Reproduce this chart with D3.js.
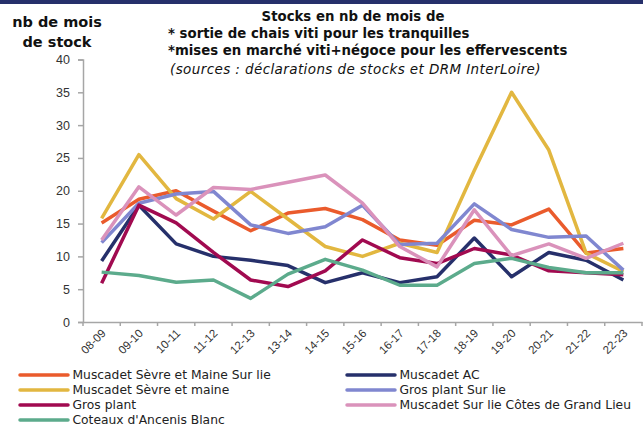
<!DOCTYPE html>
<html>
<head>
<meta charset="utf-8">
<script src="https://cdn.jsdelivr.net/npm/d3@7"></script>
<style>
  html, body { margin: 0; padding: 0; background: #fff; }
  svg { display: block; font-family: "DejaVu Sans", sans-serif; }
</style>
</head>
<body>
<svg id="chart" width="643" height="426"></svg>
<script>
// campaigns on the x axis
const campagnes = ['08-09', '09-10', '10-11', '11-12', '12-13', '13-14', '14-15', '15-16',
  '16-17', '17-18', '18-19', '19-20', '20-21', '21-22', '22-23'];

// months of stock
const sevreMaineSurLie = [15.1, 18.7, 20.0, 16.9, 13.9, 16.6, 17.3, 15.6, 12.5, 11.7, 15.5, 14.8, 17.2, 10.5, 11.2];
const muscadetAC = [9.3, 17.8, 11.9, 10.0, 9.4, 8.6, 6.0, 7.5, 6.0, 6.9, 12.8, 6.9, 10.6, 9.4, 6.4];
const sevreMaine = [15.8, 25.5, 18.8, 15.7, 19.9, 15.7, 11.5, 10.0, 12.0, 10.6, 23.1, 35.0, 26.2, 10.5, 7.7];
const grosPlantSurLie = [12.1, 18.1, 19.5, 19.9, 14.8, 13.5, 14.5, 17.8, 11.8, 12.0, 18.0, 14.1, 12.9, 13.1, 7.9];
const grosPlant = [5.9, 17.8, 15.1, 10.6, 6.4, 5.4, 7.8, 12.5, 9.8, 8.9, 11.2, 10.2, 7.8, 7.5, 7.2];
const grandLieu = [12.5, 20.6, 16.3, 20.5, 20.2, 21.3, 22.4, 18.1, 11.5, 8.4, 17.1, 10.1, 11.9, 9.7, 12.0];
const ancenis = [7.6, 7.1, 6.05, 6.4, 3.6, 7.3, 9.55, 7.9, 5.6, 5.6, 8.9, 9.7, 8.3, 7.5, 7.5];

const yTicks = [0, 5, 10, 15, 20, 25, 30, 35, 40];

const series = [
  { name: 'Muscadet Sèvre et Maine Sur lie', values: sevreMaineSurLie, color: '#ea5b2c' },
  { name: 'Muscadet AC', values: muscadetAC, color: '#26306b' },
  { name: 'Muscadet Sèvre et maine', values: sevreMaine, color: '#e2b740' },
  { name: 'Gros plant Sur lie', values: grosPlantSurLie, color: '#8087d0' },
  { name: 'Gros plant', values: grosPlant, color: '#a10a50' },
  { name: 'Muscadet Sur lie Côtes de Grand Lieu', values: grandLieu, color: '#da92bb' },
  { name: "Coteaux d'Ancenis Blanc", values: ancenis, color: '#5cab8c' }
];

const svg = d3.select('#chart');

// dark strip along the top edge
svg.append('rect')
  .attr('x', 0).attr('y', 0)
  .attr('width', 643).attr('height', 4)
  .attr('fill', '#26306b');

const margin = { left: 83, right: 1, top: 59.5, bottom: 104 };
const width = 643 - margin.left - margin.right;
const height = 426 - margin.top - margin.bottom;

const g = svg.append('g')
  .attr('transform', `translate(${margin.left},${margin.top})`);

const x = d3.scaleBand().domain(campagnes).range([0, width]);
const y = d3.scaleLinear().domain([0, 40]).range([height, 0]);

// y axis
const yAxis = g.append('g')
  .call(d3.axisLeft(y).tickValues(yTicks).tickSize(5).tickPadding(8));
yAxis.selectAll('text')
  .style('font-size', '12.5px')
  .style('fill', '#333');

// x axis, ticks sit on the category boundaries
const xAxis = g.append('g')
  .attr('transform', `translate(0,${height})`)
  .call(d3.axisBottom(x).tickSize(0).tickPadding(0));
xAxis.selectAll('text')
  .attr('text-anchor', 'end')
  .attr('transform', 'translate(2,9) rotate(-45)')
  .attr('dy', '0.35em')
  .attr('y', 0)
  .style('font-size', '11.5px')
  .style('fill', '#333');
xAxis.selectAll('.boundary')
  .data(d3.range(campagnes.length + 1))
  .enter()
  .append('line')
  .attr('class', 'boundary')
  .attr('x1', i => i * x.step())
  .attr('x2', i => i * x.step())
  .attr('y1', 0)
  .attr('y2', 4);

g.selectAll('.domain, .tick line, .boundary')
  .attr('stroke', '#a6a6a6')
  .attr('stroke-width', 1.5);

// lines
const line = d3.line()
  .x((d, i) => x(campagnes[i]) + x.bandwidth() / 2)
  .y(d => y(d));

g.append('g')
  .selectAll('path')
  .data(series)
  .enter()
  .append('path')
  .attr('fill', 'none')
  .attr('stroke', d => d.color)
  .attr('stroke-width', 3.5)
  .attr('stroke-linejoin', 'round')
  .attr('d', d => line(d.values));

// y axis title
const yTitle = svg.append('text')
  .attr('text-anchor', 'middle')
  .style('font-weight', 'bold')
  .style('font-size', '14.5px')
  .style('fill', '#111');
yTitle.append('tspan').attr('x', 57).attr('y', 27).text('nb de mois');
yTitle.append('tspan').attr('x', 57).attr('y', 47).text('de stock');

// chart title
const title = svg.append('g')
  .style('font-size', '13.3px')
  .style('fill', '#111');
title.append('text')
  .attr('x', 353).attr('y', 21)
  .attr('text-anchor', 'middle')
  .style('font-weight', 'bold')
  .text('Stocks en nb de mois de');
title.append('text')
  .attr('x', 168).attr('y', 38)
  .style('font-weight', 'bold')
  .text('* sortie de chais viti pour les tranquilles');
title.append('text')
  .attr('x', 168).attr('y', 55)
  .style('font-weight', 'bold')
  .text('*mises en marché viti+négoce pour les effervescents');
title.append('text')
  .attr('x', 170).attr('y', 74)
  .style('font-style', 'italic')
  .style('font-size', '13.5px')
  .style('letter-spacing', '0.4px')
  .text('(sources : déclarations de stocks et DRM InterLoire)');

// legend, two columns
const legend = svg.append('g')
  .selectAll('g')
  .data(series)
  .enter()
  .append('g')
  .attr('transform', (d, i) => `translate(${i % 2 === 0 ? 20 : 347},${375 + Math.floor(i / 2) * 15})`);
legend.append('line')
  .attr('x1', 0).attr('x2', 48)
  .attr('y1', 0).attr('y2', 0)
  .attr('stroke', d => d.color)
  .attr('stroke-width', 3.5)
  .attr('stroke-linecap', 'round');
legend.append('text')
  .attr('x', 52.5)
  .attr('dy', '0.35em')
  .style('font-size', '12.3px')
  .style('fill', '#222')
  .text(d => d.name);
</script>
</body>
</html>
